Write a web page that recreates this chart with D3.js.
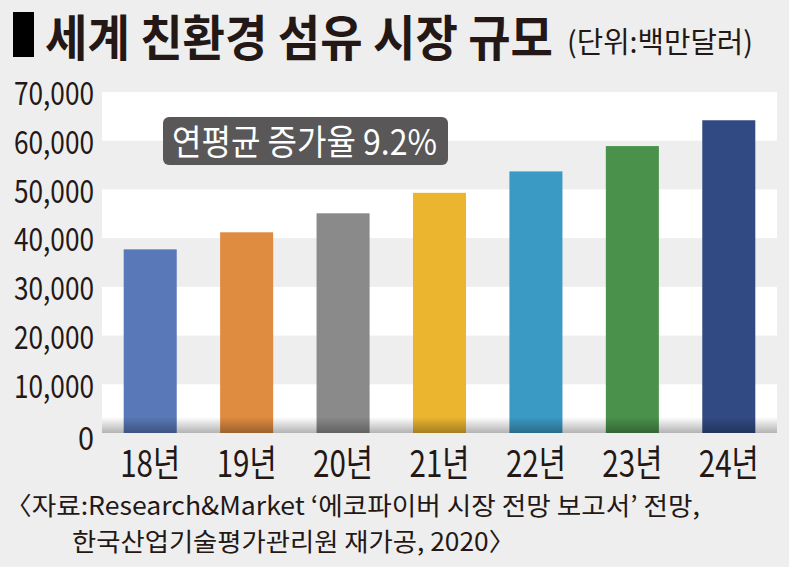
<!DOCTYPE html>
<html>
<head>
<meta charset="utf-8">
<script src="https://cdn.jsdelivr.net/npm/d3@7"></script>
<style>
  html, body { margin: 0; padding: 0; background: #eeeeee; }
  svg { display: block; }
  text { fill: #231815; }
</style>
</head>
<body>
<svg id="chart"></svg>
<script>
// data
const years = ["18년", "19년", "20년", "21년", "22년", "23년", "24년"];
const values = [37700, 41200, 45100, 49300, 53700, 58900, 64200];
const barColors = ["#5878b8", "#df8b40", "#8a8a8a", "#ebb530", "#3b9ac4", "#4a914c", "#324a84"];
const yTicks = [0, 10000, 20000, 30000, 40000, 50000, 60000, 70000];

const titleText = "세계 친환경 섬유 시장 규모";
const unitText = "(단위:백만달러)";
const growthText = "연평균 증가율 9.2%";
const sourceLines = [
  "〈자료:Research&Market ‘에코파이버 시장 전망 보고서’ 전망,",
  "한국산업기술평가관리원 재가공, 2020〉"
];

const W = 789, H = 567;
const KFONT = "'Noto Sans CJK KR', 'Noto Sans', sans-serif";
const fmt = d3.format(",");

const svg = d3.select("#chart")
  .attr("width", W)
  .attr("height", H);

svg.append("rect")
  .attr("width", W).attr("height", H)
  .attr("fill", "#eeeeee");

const plot = { left: 102, right: 777, top: 92, bottom: 433 };

const x = d3.scaleBand()
  .domain(years)
  .range([plot.left, plot.right])
  .paddingInner(0.45)
  .paddingOuter(0.225);

const y = d3.scaleLinear()
  .domain([0, 70000])
  .range([plot.bottom, plot.top]);

// alternating white bands
const bandStarts = yTicks.filter((d, i) => i % 2 === 0 && d < 70000);
svg.selectAll(".band")
  .data(bandStarts)
  .enter()
  .append("rect")
  .attr("class", "band")
  .attr("x", plot.left)
  .attr("width", plot.right - plot.left)
  .attr("y", d => y(d + 10000))
  .attr("height", d => y(d) - y(d + 10000))
  .attr("fill", "#ffffff");

// bars
svg.selectAll(".bar")
  .data(values)
  .enter()
  .append("rect")
  .attr("class", "bar")
  .attr("x", (d, i) => x(years[i]))
  .attr("width", x.bandwidth())
  .attr("y", d => y(d))
  .attr("height", d => y(0) - y(d))
  .attr("fill", (d, i) => barColors[i]);

// shading at the base
const defs = svg.append("defs");
const grad = defs.append("linearGradient")
  .attr("id", "baseShade")
  .attr("x1", 0).attr("y1", 0).attr("x2", 0).attr("y2", 1);
grad.append("stop").attr("offset", "0%").attr("stop-color", "#000").attr("stop-opacity", 0);
grad.append("stop").attr("offset", "100%").attr("stop-color", "#000").attr("stop-opacity", 0.3);

svg.append("rect")
  .attr("x", plot.left)
  .attr("width", plot.right - plot.left)
  .attr("y", plot.bottom - 16)
  .attr("height", 16)
  .attr("fill", "url(#baseShade)");

// y axis
const yAxis = d3.axisLeft(y)
  .tickValues(yTicks)
  .tickSize(0)
  .tickPadding(8)
  .tickFormat(fmt);

const yg = svg.append("g")
  .attr("transform", `translate(${plot.left},0)`)
  .call(yAxis);
yg.select(".domain").remove();
yg.selectAll("text")
  .attr("dy", d => d === 0 ? "0.5em" : "0.4em")
  .attr("textLength", d => fmt(d).length > 1 ? 80 : 16)
  .attr("lengthAdjust", "spacingAndGlyphs")
  .style("font-family", KFONT)
  .style("font-size", "32px")
  .style("fill", "#231815");

// x axis
const xAxis = d3.axisBottom(x).tickSize(0);
const xg = svg.append("g")
  .attr("transform", `translate(0,${plot.bottom})`)
  .call(xAxis);
xg.select(".domain").remove();
xg.selectAll("text")
  .attr("y", 44)
  .attr("dy", 0)
  .attr("textLength", 60)
  .attr("lengthAdjust", "spacingAndGlyphs")
  .style("font-family", KFONT)
  .style("font-size", "37px")
  .style("fill", "#231815");

// title
svg.append("rect")
  .attr("x", 13).attr("y", 12)
  .attr("width", 21).attr("height", 45)
  .attr("fill", "#000");

svg.append("text")
  .attr("x", 45).attr("y", 56)
  .attr("textLength", 508)
  .attr("lengthAdjust", "spacingAndGlyphs")
  .style("font-family", "'Noto Sans CJK KR', sans-serif")
  .style("font-weight", "bold")
  .style("font-size", "49px")
  .text(titleText);

svg.append("text")
  .attr("x", 567).attr("y", 53)
  .attr("textLength", 186)
  .attr("lengthAdjust", "spacingAndGlyphs")
  .style("font-family", KFONT)
  .style("font-size", "29px")
  .text(unitText);

// growth label
svg.append("rect")
  .attr("x", 163).attr("y", 117)
  .attr("width", 285).attr("height", 48)
  .attr("rx", 6)
  .attr("fill", "#595757");

svg.append("text")
  .attr("x", 172).attr("y", 155)
  .attr("textLength", 265)
  .attr("lengthAdjust", "spacingAndGlyphs")
  .style("font-family", KFONT)
  .style("font-size", "35px")
  .style("fill", "#ffffff")
  .text(growthText);

// source
svg.append("text")
  .attr("x", 5).attr("y", 515)
  .attr("textLength", 695)
  .attr("lengthAdjust", "spacingAndGlyphs")
  .style("font-family", KFONT)
  .style("font-size", "25px")
  .text(sourceLines[0]);

svg.append("text")
  .attr("x", 72).attr("y", 551)
  .attr("textLength", 443)
  .attr("lengthAdjust", "spacingAndGlyphs")
  .style("font-family", KFONT)
  .style("font-size", "25px")
  .text(sourceLines[1]);
</script>
</body>
</html>
